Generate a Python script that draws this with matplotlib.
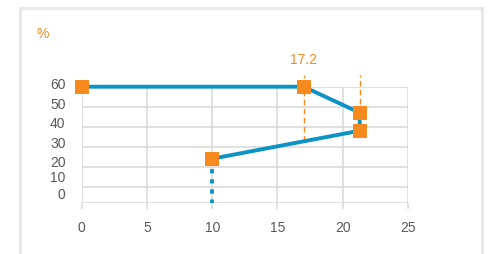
import matplotlib
matplotlib.use("Agg")
import matplotlib.pyplot as plt
from matplotlib.patches import Rectangle

plt.rcParams['font.family'] = ['Liberation Sans', 'DejaVu Sans']

# data
path_x = [0, 17.0, 21.3, 21.3, 10]
path_y = [60, 60, 47, 38, 24]
drop_x = [10, 10]
drop_y = [24, 2]
vline_x = [17.0, 21.3]
vline_top = [66, 66]
vline_bottom = [33, 47]
annot_text = "17.2"
annot_x = 17.0
annot_y = 73.5
xticks = [0, 5, 10, 15, 20, 25]
ytick_pos = [2, 10, 20, 30, 40, 50, 60]
ytick_labels = ['0', '10', '20', '30', '40', '50', '60']
unit_label = "%"

# styling: vertical pixel nudges of the y labels (baseline relative to gridline)
ylab_nudge = [3.7, 5.2, 0.0, -0.8, -1.6, -2.0, -2.3]

BLUE = '#0b93c5'
ORANGE = '#f68a1f'
GRID = '#d9d9d9'
TXT = '#595959'

W, H = 490, 254
fig = plt.figure(figsize=(W / 100, H / 100), dpi=100)
fig.patch.set_facecolor('white')

# outer frame in a background axes
bg = fig.add_axes([0, 0, 1, 1], zorder=-10)
bg.set_xlim(0, W)
bg.set_ylim(H, 0)
bg.axis('off')
bg.add_patch(Rectangle((19.5, 7.5), 462, 270, facecolor='white',
                       edgecolor='#e8e8e8', linewidth=2.2, clip_on=False))

x0, x1 = 81.7, 408.0
ytop, ybot = 86.7, 202.7
ax = fig.add_axes([x0 / W, 1 - ybot / H, (x1 - x0) / W, (ybot - ytop) / H])
ax.set_facecolor('none')
ax.set_xlim(0, 25)
ax.set_ylim(2, 60)

for s in ax.spines.values():
    s.set_visible(False)

ax.set_xticks(xticks)
ax.set_xticklabels([str(t) for t in xticks], fontsize=10, color=TXT)
ax.tick_params(axis='x', length=4, width=1.1, color=GRID, pad=9.5)
ax.set_yticks(ytick_pos)
ax.set_yticklabels([])
ax.tick_params(axis='y', length=0)
ax.grid(True, color=GRID, linewidth=1.1)
ax.set_axisbelow(True)

for p, lab, dy in zip(ytick_pos, ytick_labels, ylab_nudge):
    ax.annotate(lab, xy=(0, p), xycoords=('axes fraction', 'data'),
                xytext=(-16.2, dy), textcoords='offset pixels',
                ha='right', va='baseline', fontsize=10, color=TXT)

# orange dashed verticals
for vx, vt, vb in zip(vline_x, vline_top, vline_bottom):
    ax.plot([vx, vx], [vb, vt], color=ORANGE, linewidth=1.0,
            dashes=(4, 2.5), clip_on=False, zorder=2)

# blue dotted drop
ax.plot(drop_x, drop_y, color=BLUE, linewidth=2.8, dashes=(1.1, 1.5),
        dash_capstyle='butt', clip_on=False, zorder=3)

# main path
ax.plot(path_x, path_y, color=BLUE, linewidth=2.8, clip_on=False, zorder=4,
        solid_capstyle='butt')
ax.plot(path_x, path_y, linestyle='none', marker='s', markersize=10.3,
        markerfacecolor=ORANGE, markeredgecolor=ORANGE, markeredgewidth=0,
        clip_on=False, zorder=5)

ax.text(annot_x, annot_y, annot_text, ha='center', va='center',
        fontsize=10, color=ORANGE, clip_on=False)

fig.text(43 / W, 1 - 34 / H, unit_label, ha='center', va='center',
         fontsize=10, color=ORANGE)

fig.savefig('out.png', dpi=100)
